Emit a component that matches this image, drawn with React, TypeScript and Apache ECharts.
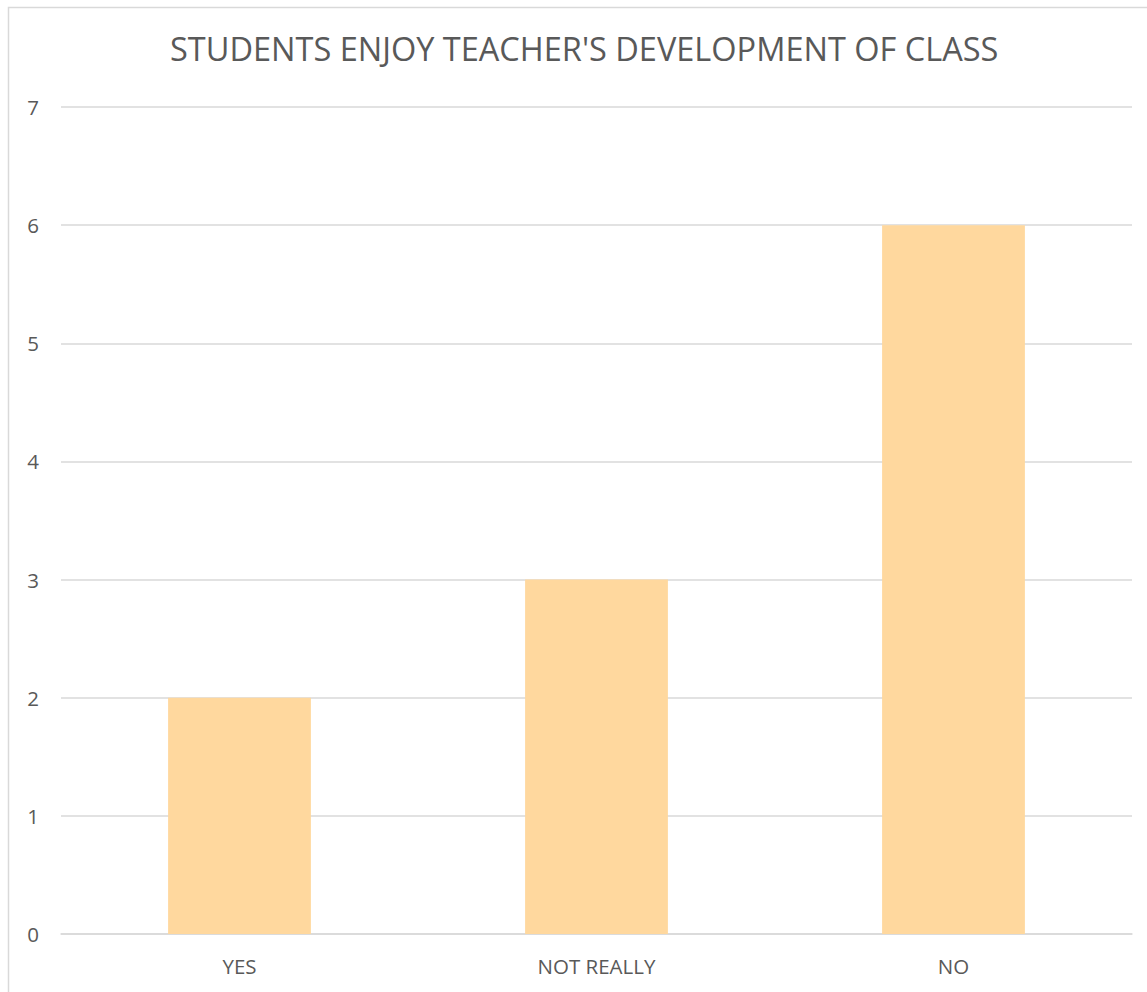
import React, { useEffect, useRef } from "react";
import * as echarts from "echarts";

const title = "STUDENTS ENJOY TEACHER'S DEVELOPMENT OF CLASS";
const categories = ["YES", "NOT REALLY", "NO"];
const values = [2, 3, 6];
const yMin = 0;
const yMax = 7;
const yInterval = 1;

export default function App() {
  const ref = useRef<HTMLDivElement>(null);
  useEffect(() => {
    if (!ref.current) return;
    const chart = echarts.init(ref.current, undefined, { renderer: "svg" });
    const font = "'Open Sans', 'Noto Sans', sans-serif";
    chart.setOption({
      animation: false,
      backgroundColor: "#ffffff",
      title: {
        text: title,
        left: 165,
        top: 27,
        textStyle: { fontFamily: font, fontSize: 32.5, fontWeight: "normal", color: "#595959" },
      },
      graphic: [
        {
          type: "rect",
          shape: { x: 8.5, y: 7.5, width: 1200, height: 1200 },
          style: { fill: "none", stroke: "#d9d9d9", lineWidth: 1.5 },
          silent: true,
        },
      ],
      grid: { left: 61, right: 15, top: 107, bottom: 58 },
      xAxis: {
        type: "category",
        data: categories,
        axisLine: { show: true, lineStyle: { color: "#d9d9d9", width: 1.5 } },
        axisTick: { show: false },
        axisLabel: { fontFamily: font, fontSize: 20.5, color: "#595959", margin: 21 },
      },
      yAxis: {
        type: "value",
        min: yMin,
        max: yMax,
        interval: yInterval,
        axisLine: { show: false },
        axisTick: { show: false },
        splitLine: { lineStyle: { color: "#d9d9d9", width: 1.5 } },
        axisLabel: { fontFamily: font, fontSize: 20.5, color: "#595959", margin: 22 },
      },
      series: [
        {
          type: "bar",
          data: values,
          barWidth: "40%",
          itemStyle: { color: "#FFD89E" },
        },
      ],
    });
    return () => chart.dispose();
  }, []);
  return (
    <div
      ref={ref}
      style={{ position: "fixed", left: 0, top: 0, width: 1147, height: 992 }}
    />
  );
}
